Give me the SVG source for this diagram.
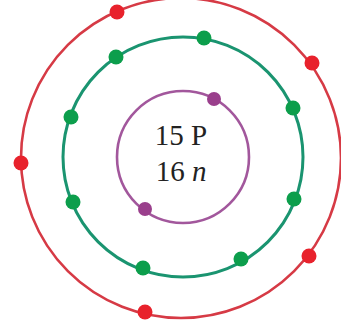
<svg xmlns="http://www.w3.org/2000/svg" width="341" height="328" viewBox="0 0 341 328">
<style>
.shell{fill:none}
.red{stroke:#d63a45;stroke-width:2.6}
.green{stroke:#1a9470;stroke-width:3}
.purple{stroke:#a2579c;stroke-width:2.6}
.er{fill:#e8222c}
.eg{fill:#0c9e4c}
.ep{fill:#9a3f8c}
.lbl{font-family:"Liberation Serif","Times New Roman",serif;font-size:29px;fill:#222;text-anchor:middle}
</style>
<rect width="341" height="328" fill="#ffffff"/>
<g id="shell3">
<circle class="shell red" cx="181" cy="158" r="160"/>
<circle class="er" cx="117" cy="12" r="7.5"/>
<circle class="er" cx="312" cy="63" r="7.5"/>
<circle class="er" cx="309" cy="256" r="7.5"/>
<circle class="er" cx="145" cy="312" r="7.5"/>
<circle class="er" cx="21" cy="163" r="7.5"/>
</g>
<g id="shell2">
<circle class="shell green" cx="183" cy="157" r="120"/>
<circle class="eg" cx="204" cy="38" r="7.5"/>
<circle class="eg" cx="116" cy="57" r="7.5"/>
<circle class="eg" cx="71" cy="117" r="7.5"/>
<circle class="eg" cx="293" cy="108" r="7.5"/>
<circle class="eg" cx="73" cy="202" r="7.5"/>
<circle class="eg" cx="294" cy="199" r="7.5"/>
<circle class="eg" cx="143" cy="268" r="7.5"/>
<circle class="eg" cx="241" cy="259" r="7.5"/>
</g>
<g id="shell1">
<circle class="shell purple" cx="183" cy="157" r="66"/>
<circle class="ep" cx="214" cy="99" r="7"/>
<circle class="ep" cx="145" cy="209" r="7"/>
</g>
<g id="nucleus">
<text class="lbl" x="181" y="145">15 P</text>
<text class="lbl" x="181" y="181">16 <tspan font-style="italic">n</tspan></text>
</g>
</svg>
